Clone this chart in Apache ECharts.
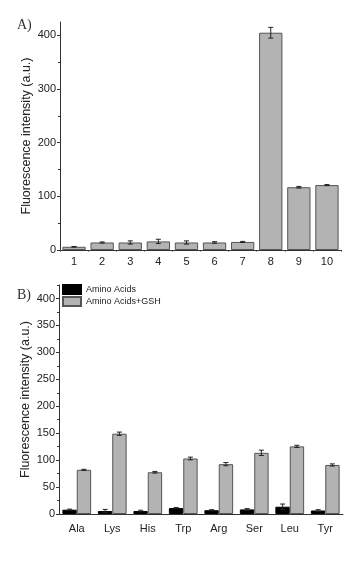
<!DOCTYPE html>
<html><head><meta charset="utf-8">
<script src="https://cdn.jsdelivr.net/npm/echarts@6/dist/echarts.min.js"></script>
<style>html,body{margin:0;padding:0;background:#fff}#c{width:359px;height:576px}</style>
</head><body><div id="c"></div>
<script>
const catsA = ['1','2','3','4','5','6','7','8','9','10'];
const valsA = [6, 14, 14, 16, 14, 14, 15, 405, 117, 121];
const errA  = [0.5, 1, 3, 4, 3, 1.5, 1, 10, 1.5, 1];

const catsB = ['Ala','Lys','His','Trp','Arg','Ser','Leu','Tyr'];
const aaVals = [8, 5.5, 5.5, 11, 7, 8.5, 13.5, 6.5];
const aaErr  = [1, 3, 1.5, 1, 1, 1.5, 5, 1.5];
const gshVals = [82, 149, 77.5, 103, 92.5, 113.5, 125.5, 91];
const gshErr  = [1, 3, 1.5, 2.5, 3, 5, 2, 2];

const ticksA = [0,100,200,300,400];
const minorA = [50,150,250,350];
const ticksB = [0,50,100,150,200,250,300,350,400];
const minorB = [25,75,125,175,225,275,325,375,425];

const axisColor = '#333';
const font = 'Liberation Sans, Arial, sans-serif';

function errSeries(xi, yi, vals, errs, offset) {
  return {
    type: 'custom', xAxisIndex: xi, yAxisIndex: yi, z: 10,
    data: vals.map((v,i)=>[i, v, errs[i]]),
    renderItem: function(params, api) {
      const i = api.value(0), v = api.value(1), e = api.value(2);
      const bw = api.size([1,0])[0];
      const c = api.coord([i, v]);
      const x = c[0] + offset * bw;
      const top = api.coord([i, v + e])[1];
      const bot = api.coord([i, v - e])[1];
      const cap = 2.5;
      const st = {stroke:'#222', lineWidth:1};
      return {type:'group', children:[
        {type:'line', shape:{x1:x,y1:top,x2:x,y2:bot}, style:st},
        {type:'line', shape:{x1:x-cap,y1:top,x2:x+cap,y2:top}, style:st},
        {type:'line', shape:{x1:x-cap,y1:bot,x2:x+cap,y2:bot}, style:st}
      ]};
    }
  };
}

const yAxisMain = (grid, ticks) => ({
  type:'value', gridIndex:grid, min:0, max:425,
  axisLine:{show:true, lineStyle:{color:axisColor, width:1}},
  axisTick:{show:true, inside:false, length:3, lineStyle:{color:axisColor}, customValues: ticks},
  axisLabel:{color:'#222', fontFamily:font, fontSize:11, margin:4, customValues: ticks},
  splitLine:{show:false},
  name:'Fluorescence intensity (a.u.)', nameLocation:'middle', nameGap:27, nameMoveOverlap:false,
  nameTextStyle:{color:'#222', fontFamily:font, fontSize:12.5}
});
const yAxisMinor = (grid, ticks) => ({
  type:'value', gridIndex:grid, min:0, max:425, position:'left',
  axisLine:{show:false},
  axisTick:{show:true, inside:false, length:2, lineStyle:{color:axisColor}, customValues: ticks},
  axisLabel:{show:false},
  splitLine:{show:false}
});

const chart = echarts.init(document.getElementById('c'), null, {renderer:'canvas'});
chart.setOption({
  animation:false,
  backgroundColor:'#fff',
  grid:[
    {left:60, right:18, top:22, bottom:326},
    {left:59, right:16, top:285, bottom:62}
  ],
  title:[
    {text:'A)', left:12, top:13, textStyle:{fontFamily:'Liberation Serif, serif', fontWeight:'normal', fontSize:14, color:'#333'}},
    {text:'B)', left:12, top:283, textStyle:{fontFamily:'Liberation Serif, serif', fontWeight:'normal', fontSize:14, color:'#333'}}
  ],
  legend:{
    orient:'vertical', left:62, top:284, itemGap:1, itemWidth:18, itemHeight:9, padding:0,
    icon:'rect',
    textStyle:{fontFamily:font, fontSize:9, color:'#222'},
    data:['Amino Acids','Amino Acids+GSH']
  },
  xAxis:[
    {type:'category', gridIndex:0, data:catsA,
     axisLine:{lineStyle:{color:axisColor}},
     axisTick:{alignWithLabel:true, length:3, lineStyle:{color:axisColor}},
     axisLabel:{color:'#222', fontFamily:font, fontSize:11, margin:6}},
    {type:'category', gridIndex:1, data:catsB,
     axisLine:{lineStyle:{color:axisColor}},
     axisTick:{alignWithLabel:true, length:3, lineStyle:{color:axisColor}},
     axisLabel:{color:'#222', fontFamily:font, fontSize:11, margin:9}},
    {type:'category', gridIndex:0, data:catsA, position:'bottom',
     axisLine:{show:false},
     axisTick:{show:true, length:1.5, lineStyle:{color:axisColor}},
     axisLabel:{show:false}}
  ],
  yAxis:[
    yAxisMain(0, ticksA),
    yAxisMain(1, ticksB),
    yAxisMinor(0, minorA),
    yAxisMinor(1, minorB)
  ],
  series:[
    {type:'bar', xAxisIndex:0, yAxisIndex:0, data:valsA, barCategoryGap:'17%',
     itemStyle:{color:'#b3b3b3', borderColor:'#555', borderWidth:1}},
    errSeries(0,0,valsA,errA,0),
    {type:'bar', name:'Amino Acids', xAxisIndex:1, yAxisIndex:1, data:aaVals, barGap:'0%', barCategoryGap:'19%',
     itemStyle:{color:'#000', borderColor:'#000', borderWidth:1}},
    {type:'bar', name:'Amino Acids+GSH', xAxisIndex:1, yAxisIndex:1, data:gshVals, barGap:'0%', barCategoryGap:'19%',
     itemStyle:{color:'#b3b3b3', borderColor:'#555', borderWidth:1}},
    errSeries(1,1,aaVals,aaErr,-0.2),
    errSeries(1,1,gshVals,gshErr,0.2)
  ]
});
</script></body></html>
